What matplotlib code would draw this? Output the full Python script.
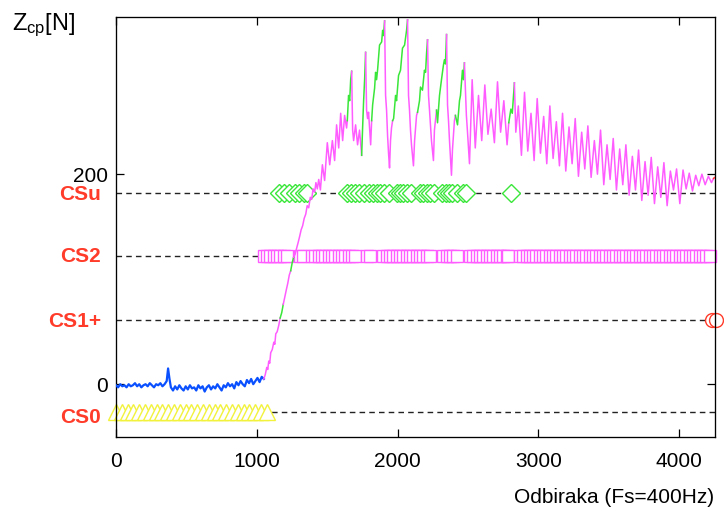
import matplotlib
matplotlib.use('Agg')
import matplotlib.pyplot as plt
from matplotlib.transforms import blended_transform_factory

plt.rcParams['font.family'] = ['Liberation Sans', 'DejaVu Sans']
plt.rcParams['mathtext.fontset'] = 'custom'
plt.rcParams['mathtext.rm'] = 'Liberation Sans'
plt.rcParams['mathtext.it'] = 'Liberation Sans:italic'

BLUE = '#0a50ff'
MAGENTA = '#ff5cff'
GREEN = '#3ae63a'
YELLOW = '#f2f23c'
RED = '#ff3b2a'
state_colors = {'b': BLUE, 'm': MAGENTA, 'g': GREEN, 'r': RED}

# state levels (force) and their names
level_names = ['CSu', 'CS2', 'CS1+', 'CS0']
level_values = [182.5, 122, 61, -26.5]
label_values = [181, 122, 60, -32]

# force signal, stable part (classified CS0)
blue_pts = [(0, -1), (15, -3), (30, 0), (45, -2), (60, -1), (75, -3), (90, 0), (105, -2),
            (120, -1), (135, 1), (150, -2), (165, 0), (180, -3), (195, -1), (210, 0),
            (225, -2), (240, 1), (255, -1), (270, -3), (285, 0), (300, -1), (315, 1),
            (330, -2), (345, 0), (360, 3), (370, 15), (380, 5), (390, -3), (405, -6),
            (420, -2), (435, -5), (450, -1), (465, -4), (480, -6), (495, -2), (510, -5),
            (525, -1), (540, -4), (555, -3), (570, -6), (585, -1), (600, -4), (615, -2),
            (630, -7), (645, -3), (660, -1), (675, -5), (690, -2), (705, -4), (720, 0),
            (735, -3), (750, -6), (765, -1), (780, -3), (795, 1), (810, -2), (825, 0),
            (840, -4), (855, 2), (870, -1), (885, 3), (900, 0), (915, -2), (930, 4),
            (945, 1), (960, 5), (975, 0), (990, 3), (1005, 6), (1020, 2), (1035, 7), (1050, 5)]

# rest of the signal: (sample, force, state of the segment ending here)
rest_pts = [
    (1060, 9, 'm'), (1071, 16, 'm'), (1078, 14, 'm'), (1085, 22, 'm'), (1092, 20, 'm'),
    (1099, 30, 'm'), (1110, 33, 'm'), (1121, 40, 'm'), (1128, 38, 'm'), (1135, 48, 'm'),
    (1145, 50, 'm'), (1156, 56, 'm'), (1166, 63, 'm'), (1177, 68, 'g'), (1188, 76, 'g'),
    (1199, 83, 'm'), (1210, 90, 'm'), (1220, 96, 'm'), (1231, 104, 'm'), (1241, 108, 'm'),
    (1252, 116, 'g'), (1262, 121, 'g'), (1273, 124, 'm'), (1284, 130, 'm'), (1294, 135, 'm'),
    (1305, 141, 'm'), (1315, 147, 'm'), (1326, 151, 'm'), (1337, 158, 'm'), (1348, 162, 'm'),
    (1358, 170, 'm'), (1369, 168, 'm'), (1380, 178, 'm'), (1390, 176, 'm'), (1400, 186, 'm'),
    (1411, 183, 'm'), (1420, 192, 'm'), (1430, 186, 'm'), (1440, 195, 'm'), (1452, 185, 'm'),
    (1466, 209, 'm'), (1482, 194, 'm'), (1501, 230, 'm'), (1518, 209, 'm'), (1537, 232, 'm'),
    (1553, 213, 'm'), (1567, 247, 'm'), (1582, 225, 'm'), (1596, 258, 'm'), (1610, 232, 'm'),
    (1624, 256, 'm'), (1638, 244, 'm'), (1643, 251, 'm'),
    (1652, 275, 'g'), (1660, 270, 'g'), (1667, 290, 'g'), (1674, 298, 'g'),
    (1681, 242, 'm'), (1688, 232, 'm'), (1702, 247, 'm'), (1716, 228, 'm'), (1730, 242, 'm'),
    (1745, 218, 'm'),
    (1752, 245, 'g'), (1759, 270, 'g'), (1766, 290, 'g'), (1773, 316, 'g'),
    (1780, 261, 'm'), (1787, 253, 'm'), (1794, 259, 'm'), (1809, 228, 'm'), (1816, 251, 'm'),
    (1823, 266, 'g'), (1837, 282, 'g'), (1844, 297, 'g'), (1851, 290, 'g'), (1858, 299, 'g'),
    (1872, 323, 'g'), (1887, 326, 'g'), (1894, 337, 'g'), (1900, 332, 'g'), (1908, 346, 'g'),
    (1915, 275, 'm'), (1922, 261, 'm'), (1929, 237, 'm'), (1936, 220, 'm'), (1943, 206, 'm'),
    (1950, 232, 'm'), (1957, 244, 'm'), (1965, 251, 'm'),
    (1972, 253, 'g'), (1986, 275, 'g'), (1993, 270, 'g'), (2007, 294, 'g'), (2021, 299, 'g'),
    (2035, 320, 'g'), (2050, 323, 'g'), (2064, 337, 'g'), (2071, 347, 'g'),
    (2078, 275, 'm'), (2085, 261, 'm'), (2092, 242, 'm'), (2099, 228, 'm'), (2113, 208, 'm'),
    (2121, 232, 'm'), (2135, 256, 'm'), (2142, 259, 'm'),
    (2156, 270, 'g'), (2163, 283, 'g'), (2177, 280, 'g'), (2191, 299, 'g'), (2199, 297, 'g'),
    (2206, 315, 'g'), (2213, 328, 'g'),
    (2220, 275, 'm'), (2227, 261, 'm'), (2241, 232, 'm'), (2255, 213, 'm'), (2262, 242, 'm'),
    (2277, 261, 'm'),
    (2284, 249, 'g'), (2298, 275, 'g'), (2312, 290, 'g'), (2326, 304, 'g'), (2333, 309, 'g'),
    (2340, 305, 'g'), (2348, 333, 'g'),
    (2355, 266, 'm'), (2362, 251, 'm'), (2369, 232, 'm'), (2383, 199, 'm'), (2390, 223, 'm'),
    (2404, 251, 'm'), (2411, 256, 'm'),
    (2426, 247, 'g'), (2440, 270, 'g'), (2447, 275, 'g'), (2461, 299, 'g'), (2468, 290, 'g'),
    (2475, 306, 'g'),
    (2489, 256, 'm'), (2496, 242, 'm'), (2511, 210, 'm'),
    (2530, 290, 'm'), (2552, 225, 'm'), (2575, 275, 'm'), (2598, 232, 'm'), (2620, 285, 'm'),
    (2642, 238, 'm'), (2665, 262, 'm'), (2688, 230, 'm'), (2710, 288, 'm'), (2732, 240, 'm'),
    (2755, 270, 'm'), (2778, 228, 'm'), (2790, 249, 'm'),
    (2805, 262, 'g'), (2815, 258, 'g'), (2830, 287, 'g'),
    (2840, 240, 'm'), (2858, 265, 'm'), (2880, 218, 'm'), (2902, 278, 'm'), (2925, 222, 'm'),
    (2948, 258, 'm'), (2970, 213, 'm'), (2992, 272, 'm'), (3015, 220, 'm'), (3038, 255, 'm'),
    (3060, 210, 'm'), (3082, 265, 'm'), (3105, 215, 'm'), (3128, 250, 'm'), (3150, 208, 'm'),
    (3172, 258, 'm'), (3195, 203, 'm'), (3218, 245, 'm'), (3240, 210, 'm'), (3262, 253, 'm'),
    (3285, 198, 'm'), (3308, 240, 'm'), (3330, 205, 'm'), (3352, 246, 'm'), (3375, 197, 'm'),
    (3398, 232, 'm'), (3420, 200, 'm'), (3442, 242, 'm'), (3465, 190, 'm'), (3488, 228, 'm'),
    (3510, 195, 'm'), (3532, 234, 'm'), (3555, 185, 'm'), (3578, 224, 'm'), (3600, 190, 'm'),
    (3622, 228, 'm'), (3645, 180, 'm'), (3668, 217, 'm'), (3690, 185, 'm'), (3712, 223, 'm'),
    (3735, 175, 'm'), (3758, 212, 'm'), (3780, 180, 'm'), (3802, 216, 'm'), (3825, 172, 'm'),
    (3848, 207, 'm'), (3870, 178, 'm'), (3892, 211, 'm'), (3915, 170, 'm'), (3938, 203, 'm'),
    (3960, 185, 'm'), (3982, 205, 'm'), (4005, 172, 'm'), (4028, 204, 'm'), (4050, 186, 'm'),
    (4072, 201, 'm'), (4095, 184, 'm'), (4118, 199, 'm'), (4140, 189, 'm'), (4162, 200, 'm'),
    (4185, 190, 'm'), (4208, 198, 'm'), (4230, 192, 'm'), (4245, 196, 'm'), (4255, 197, 'r'),
]

# classification markers
cs0_x = [0, 41, 82, 124, 165, 206, 247, 289, 330, 371, 412, 454, 495, 536, 577, 618,
         660, 701, 742, 783, 824, 866, 907, 948, 989, 1031, 1072]
cs1_x = [4232, 4262]
cs2_x = [1049, 1073, 1097, 1120, 1144, 1168, 1191, 1215, 1305, 1328, 1392, 1416, 1439,
         1463, 1487, 1510, 1534, 1558, 1581, 1605, 1628, 1652, 1676, 1699, 1782, 1806,
         1900, 1924, 1948, 1971, 1995, 2018, 2042, 2066, 2089, 2113, 2137, 2160, 2184,
         2208, 2231, 2326, 2349, 2373, 2397, 2420, 2515, 2539, 2562, 2586, 2609, 2633,
         2657, 2680, 2704, 2728, 2751, 2775, 2787, 2869, 2893, 2916, 2940, 2964, 2987,
         3011, 3035, 3058, 3082, 3105, 3129, 3153, 3176, 3200, 3224, 3247, 3271, 3295,
         3318, 3342, 3365, 3389, 3413, 3436, 3460, 3484, 3507, 3531, 3554, 3578, 3602,
         3625, 3649, 3673, 3696, 3720, 3744, 3767, 3791, 3814, 3838, 3862, 3885, 3909,
         3933, 3956, 3980, 4004, 4027, 4051, 4074, 4098, 4122, 4145, 4169, 4193, 4216]
csu_x = [1159, 1195, 1230, 1271, 1301, 1337, 1360,
         1644, 1672, 1701, 1729, 1762, 1798, 1828, 1852, 1876, 1904, 1940, 1994, 2018,
         2041, 2065, 2093, 2159, 2183, 2207, 2230, 2259, 2318, 2341, 2365, 2389, 2419,
         2462, 2483, 2807]

x_ticks = [0, 1000, 2000, 3000, 4000]
y_ticks = [0, 200]

fig = plt.figure(figsize=(7.24, 5.11), dpi=100)
ax = fig.add_axes([116 / 724, 1 - 436.7 / 511, 599 / 724, 420 / 511])
ax.set_xlim(0, 4255)
ax.set_ylim(-50, 350)

# dashed state levels
for lv in level_values:
    ax.axhline(lv, color='#222222', ls=(0, (4, 3)), lw=1.0, zorder=1)

# markers
ax.plot(csu_x, [level_values[0]] * len(csu_x), ls='none', marker='D', ms=8.8,
        mfc='white', mec=GREEN, mew=1.0, zorder=2, clip_on=False)
ax.plot(cs2_x, [level_values[1]] * len(cs2_x), ls='none', marker='s', ms=9,
        mfc='white', mec=MAGENTA, mew=1.0, zorder=2, clip_on=False)
ax.plot(cs1_x, [level_values[2]] * len(cs1_x), ls='none', marker='o', ms=10,
        mfc='white', mec=RED, mew=1.0, zorder=2, clip_on=False)
ax.plot(cs0_x, [level_values[3]] * len(cs0_x), ls='none', marker='^', ms=11.3,
        mfc='white', mec=YELLOW, mew=1.0, zorder=2, clip_on=False)

# signal, coloured by state
signal = [(x, y, 'b') for x, y in blue_pts] + rest_pts
run = [signal[0]]
cur = signal[1][2]
for p in signal[1:]:
    if p[2] != cur:
        ax.plot([q[0] for q in run], [q[1] for q in run], color=state_colors[cur],
                lw=1.6 if cur == 'b' else 1.1, zorder=3)
        run = [run[-1]]
        cur = p[2]
    run.append(p)
ax.plot([q[0] for q in run], [q[1] for q in run], color=state_colors[cur], lw=1.1, zorder=3)

ax.set_xticks(x_ticks)
ax.set_yticks(y_ticks)
ax.tick_params(direction='in', length=6, width=0.9, top=True, right=True,
               labelsize=15, colors='black')
ax.tick_params(axis='x', pad=11)
ax.tick_params(axis='y', pad=6)
for s in ax.spines.values():
    s.set_linewidth(0.95)

trans = blended_transform_factory(ax.transAxes, ax.transData)
for name, lv in zip(level_names, label_values):
    ax.text(-0.025, lv, name, transform=trans, ha='right', va='center',
            fontsize=15, fontweight='bold', color=RED)

fig.text(714 / 724, 1 - 497 / 511, 'Odbiraka (Fs=400Hz)', ha='right', va='center', fontsize=15)
fig.text(12 / 724, 1 - 25 / 511, r'Z$_{\mathrm{cp}}$[N]', ha='left', va='center', fontsize=17)

fig.savefig('out.png', dpi=100)
